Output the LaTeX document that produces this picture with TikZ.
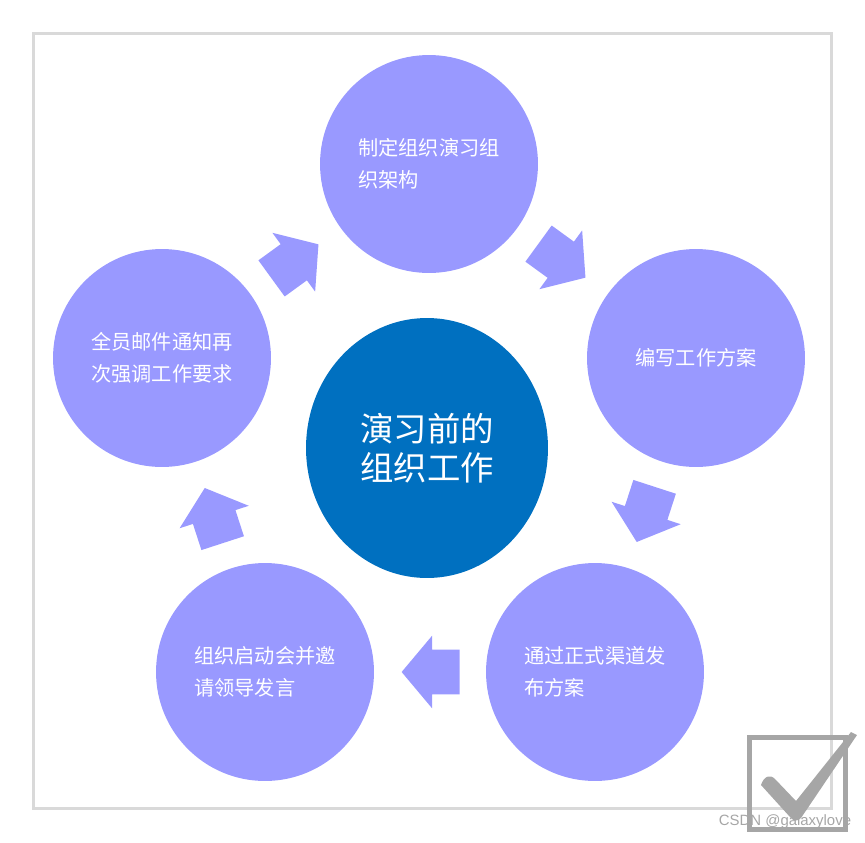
\documentclass[tikz,border=0pt]{standalone}
\usepackage{fontspec}
\newfontfamily\cjk{Noto Sans CJK SC}
\newfontfamily\wmfont{Liberation Sans}
\usetikzlibrary{calc,shapes.arrows,shapes.geometric}
\definecolor{Periwinkle}{HTML}{9999FF}
\definecolor{Cobalt}{HTML}{0070C0}
\definecolor{FrameGray}{HTML}{D9D9D9}
\definecolor{TickGray}{HTML}{A6A6A6}
\tikzset{
  stage/.style={
    circle, fill=Periwinkle, text=white, minimum size=4.36cm,
    inner sep=0pt, align=left, font=\cjk\fontsize{11.5}{18}\selectfont
  },
  hub/.style={
    ellipse, fill=Cobalt, text=white, minimum width=4.84cm,
    minimum height=5.2cm, inner sep=0pt, align=center,
    font=\cjk\fontsize{19}{22}\selectfont
  },
  cyclearrow/.style={
    single arrow, fill=Periwinkle, inner xsep=0pt, inner ysep=0.44cm,
    minimum height=1.16cm, single arrow head extend=0.28cm,
    single arrow tip angle=100
  }
}
\begin{document}
\begin{tikzpicture}[x=0.02cm,y=-0.02cm]
  \useasboundingbox (0,0) rectangle (865,842);
  \draw[FrameGray, line width=0.06cm] (33,33) rectangle (831,808);
  % the five stages round the hub
  \node[stage] (plan) at (429,164) {制定组织演习组\\织架构};
  \node[stage] (draft) at (696,358) {编写工作方案};
  \node[stage] (publish) at (595,672) {通过正式渠道发\\布方案};
  \node[stage] (kickoff) at (265,672) {组织启动会并邀\\请领导发言};
  \node[stage] (notify) at (162,358) {全员邮件通知再\\次强调工作要求};
  \node[hub] (core) at (427,448) {演习前的\\组织工作};
  % cycle arrows
  \node[cyclearrow,rotate=36] (a1) at ($(notify)!0.5!(plan)!0.2cm!(notify)$) {};
  \node[cyclearrow,rotate=-36] (a2) at ($(plan)!0.5!(draft)!0.2cm!(plan)$) {};
  \node[cyclearrow,rotate=-108] (a3) at ($(draft)!0.5!(publish)!0.2cm!(draft)$) {};
  \node[cyclearrow,rotate=180] (a4) at ($(publish)!0.5!(kickoff)!0.2cm!(publish)$) {};
  \node[cyclearrow,rotate=108] (a5) at ($(kickoff)!0.5!(notify)!0.2cm!(kickoff)$) {};
  % check box stamp
  \draw[TickGray, line width=0.1cm] (749.5,737.5) rectangle (845.5,829.5);
  \fill[TickGray] (761,785) .. controls (764,776) and (770,774) .. (775,779)
    -- (796,801) -- (851,732) -- (857,735) -- (801,818)
    .. controls (797,822) and (793,821) .. (790,817) -- cycle;
  \node[font=\wmfont\fontsize{8.5}{10}\selectfont, text=TickGray] (wm) at (785,822) {CSDN @galaxylove};
\end{tikzpicture}
\end{document}
